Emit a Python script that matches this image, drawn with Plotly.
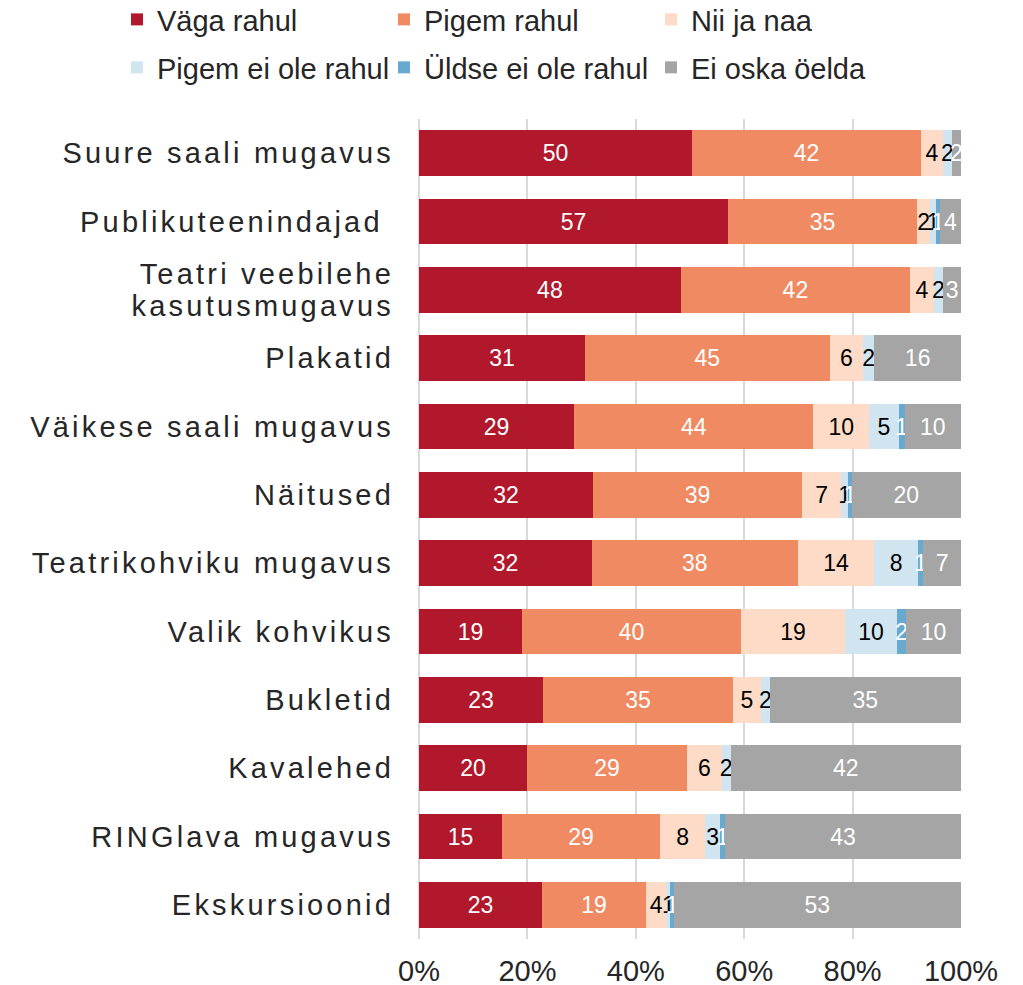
import plotly.graph_objects as go

categories = [
    "Suure saali mugavus",
    "Publikuteenindajad ",
    "Teatri veebilehe<br>kasutusmugavus",
    "Plakatid",
    "Väikese saali mugavus",
    "Näitused",
    "Teatrikohviku mugavus",
    "Valik kohvikus",
    "Bukletid",
    "Kavalehed",
    "RINGlava mugavus",
    "Ekskursioonid",
]

series_names = ["Väga rahul", "Pigem rahul", "Nii ja naa",
                "Pigem ei ole rahul", "Üldse ei ole rahul", "Ei oska öelda"]

vaga_rahul = [50.4, 57.0, 48.3, 30.6, 28.6, 32.1, 31.9, 19.0, 22.9, 19.9, 15.3, 22.7]
pigem_rahul = [42.2, 34.9, 42.3, 45.2, 44.1, 38.6, 38.0, 40.4, 35.0, 29.4, 29.0, 19.2]
nii_ja_naa = [4.1, 2.4, 4.4, 6.1, 10.3, 7.2, 14.1, 19.2, 5.2, 6.4, 8.4, 3.7]
pigem_ei_ole = [1.6, 1.1, 1.7, 2.1, 5.4, 1.3, 8.1, 9.6, 1.6, 1.6, 2.6, 0.8]
uldse_ei_ole = [0.0, 0.7, 0.0, 0.0, 1.1, 0.6, 0.9, 1.7, 0.0, 0.0, 1.0, 0.6]
ei_oska = [1.7, 3.9, 3.3, 16.0, 10.4, 20.2, 7.0, 10.1, 35.3, 42.4, 43.4, 53.0]

x_tick_values = [0, 20, 40, 60, 80, 100]
x_tick_labels = ["0%", "20%", "40%", "60%", "80%", "100%"]

series_values = [vaga_rahul, pigem_rahul, nii_ja_naa, pigem_ei_ole, uldse_ei_ole, ei_oska]
colors = ["#B2182B", "#EF8A62", "#FDDBC7", "#D1E5F0", "#67A9CF", "#A5A5A5"]
text_colors = ["white", "white", "black", "black", "white", "white"]
legend_ids = ["legend", "legend", "legend", "legend2", "legend2", "legend2"]

FONT = "Liberation Sans, Arial, sans-serif"

fig = go.Figure()
for name, vals, col, tcol, lg in zip(series_names, series_values, colors, text_colors, legend_ids):
    fig.add_trace(go.Bar(
        y=categories,
        x=vals,
        name=name,
        orientation="h",
        legend=lg,
        marker=dict(color=col, line=dict(width=0)),
        text=[f"{v:.0f}" if v > 0 else "" for v in vals],
        textposition="inside",
        insidetextanchor="middle",
        textangle=0,
        insidetextfont=dict(family=FONT, size=23, color=tcol),
        constraintext="none",
        hoverinfo="skip",
    ))

legend_common = dict(
    orientation="h",
    xref="paper",
    yref="paper",
    x=-0.5572,
    xanchor="left",
    yanchor="top",
    entrywidth=222,
    entrywidthmode="pixels",
    itemwidth=30,
    traceorder="normal",
    font=dict(family=FONT, size=29, color="#262626"),
    bgcolor="rgba(0,0,0,0)",
)

fig.update_layout(
    width=1023,
    height=985,
    barmode="stack",
    barnorm="percent",
    bargap=0.335,
    paper_bgcolor="white",
    plot_bgcolor="white",
    margin=dict(l=419, r=62, t=119, b=46, autoexpand=False),
    font=dict(family=FONT, size=29, color="#262626"),
    uniformtext=dict(minsize=23, mode="show"),
    showlegend=True,
    legend=dict(legend_common, y=1.1524),
    legend2=dict(legend_common, y=1.0939),
    xaxis=dict(
        range=[0, 100],
        tickvals=x_tick_values,
        ticktext=x_tick_labels,
        showgrid=True,
        gridcolor="#D9D9D9",
        gridwidth=2,
        zeroline=True,
        zerolinecolor="#D9D9D9",
        zerolinewidth=2,
        showline=False,
        ticks="",
        ticklabelstandoff=12,
        tickfont=dict(family=FONT, size=29, color="#262626"),
        fixedrange=True,
    ),
    yaxis=dict(
        autorange="reversed",
        showgrid=False,
        zeroline=False,
        showline=False,
        ticks="",
        ticklabelstandoff=24,
        tickfont=dict(family=FONT, size=29, color="#262626"),
        fixedrange=True,
    ),
)

post_script = """
document.body.style.margin = '0';
document.body.style.overflow = 'hidden';
var gd = document.getElementById('{plot_id}');
function adjust() {
  gd.querySelectorAll('.ytick text').forEach(function(t) {
    var before = t.getBBox();
    t.style.letterSpacing = '3.2px';
    var lines = t.querySelectorAll('tspan.line');
    if (lines.length > 1) {
      for (var i = 1; i < lines.length; i++) { lines[i].setAttribute('dy', '1.08em'); }
      var after = t.getBBox();
      var shift = (before.y + before.height / 2) - (after.y + after.height / 2);
      var tr = t.getAttribute('transform') || '';
      t.setAttribute('transform', tr + ' translate(0,' + shift + ')');
    }
  });
}
adjust();
"""

fig.write_html("out.html", post_script=post_script, config={"displayModeBar": False})
